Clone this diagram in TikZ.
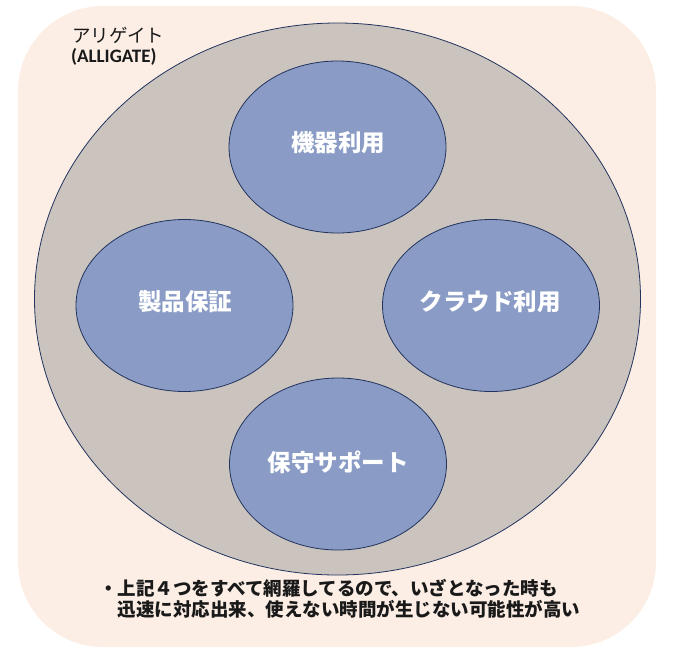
\documentclass[tikz,border=0pt]{standalone}
\usepackage{fontspec}
\newfontfamily\jpfont{Noto Sans CJK JP}
\newfontfamily\carlitofont{Carlito}
\usetikzlibrary{shapes.geometric}
\definecolor{peach}{HTML}{FCEEE5}
\definecolor{taupe}{HTML}{CAC3BE}
\definecolor{bluefill}{HTML}{8A9CC5}
\definecolor{navy}{HTML}{22345E}
\tikzset{
  outer/.style={draw=none, fill=peach, rounded corners=85pt},
  bigell/.style={ellipse, draw=navy, line width=0.8pt, fill=taupe, minimum width=606pt, minimum height=552pt, inner sep=0pt},
  item/.style={ellipse, draw=navy, line width=0.8pt, fill=bluefill, minimum width=217pt, minimum height=172pt, inner sep=0pt},
  lbl/.style={text=white, font=\jpfont\bfseries\fontsize{23.5}{27}\selectfont},
  note/.style={text=black!90, font=\jpfont\bfseries\fontsize{18.5}{21}\selectfont, align=left, anchor=north west, inner sep=0pt},
}
\begin{document}
\begin{tikzpicture}[x=1pt,y=-1pt]
\useasboundingbox (0,0) rectangle (676,667);
\fill[outer] (18,6) rectangle (656,647);
\node[bigell] (all) at (337.5,299) {};
\node[item] (kiki) at (337.5,147) {};
\node[item] (seihin) at (184.5,305.5) {};
\node[item] (cloud) at (491,305.5) {};
\node[item] (hoshu) at (338,464) {};
\node[lbl] (kikit) at (338,143) {機器利用};
\node[lbl] (seihint) at (185,302) {製品保証};
\node[lbl] (cloudt) at (490,302) {クラウド利用};
\node[lbl] (hoshut) at (338,462) {保守サポート};
\node[anchor=west, inner sep=0pt, font=\jpfont\fontsize{18.5}{21}\selectfont, text=black!90] (name) at (72,35) {アリゲイト};
\node[anchor=west, inner sep=0pt, font=\carlitofont\bfseries\fontsize{19}{21}\selectfont, text=black!90] (eng) at (71,57) {(ALLIGATE)};
\node[note] (desc) at (99,579) {・上記４つをすべて網羅してるので、いざとなった時も\\\hspace*{18.5pt}迅速に対応出来、使えない時間が生じない可能性が高い};
\end{tikzpicture}
\end{document}
